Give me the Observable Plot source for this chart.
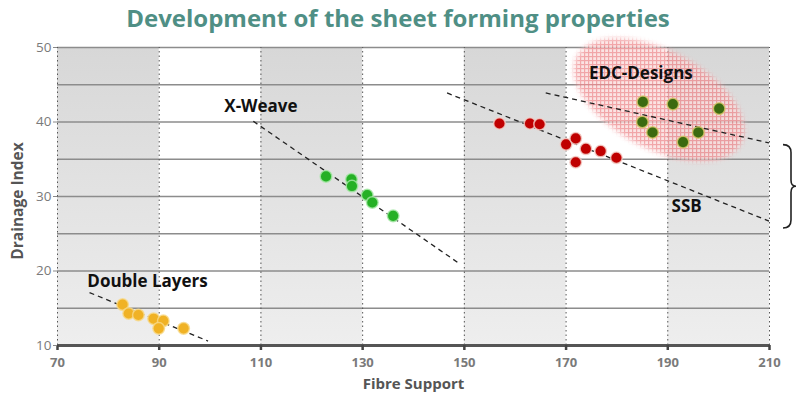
<!DOCTYPE html>
<html><head><meta charset="utf-8">
<script src="https://cdn.jsdelivr.net/npm/d3@7"></script>
<script src="https://cdn.jsdelivr.net/npm/@observablehq/plot@0.6"></script>
<style>
body{margin:0;background:#fff;width:796px;height:398px;overflow:hidden;font-family:"Open Sans",Lato,sans-serif}
#title{height:36px;line-height:36px;text-align:center;color:#4f8f85;font-weight:bold;font-size:24px;white-space:nowrap}
#chart svg{display:block}
</style></head><body>
<div id="title">Development of the sheet forming properties</div>
<div id="chart"></div>
<script>
// ---- data ----
const xTicks = [70, 90, 110, 130, 150, 170, 190, 210];
const yTicks = [10, 20, 30, 40, 50];
const gridY = [15, 20, 25, 30, 35, 40, 45, 50];
const bandStart = [70, 110, 150, 190];
const bandEnd = [90, 130, 170, 210];

const doubleLayersX = [82.8, 84.0, 85.9, 88.9, 90.8, 89.9, 94.8];
const doubleLayersY = [15.5, 14.3, 14.1, 13.6, 13.3, 12.3, 12.3];
const xWeaveX = [122.8, 127.8, 127.9, 130.9, 131.9, 136.0];
const xWeaveY = [32.7, 32.3, 31.4, 30.2, 29.2, 27.4];
const ssbX = [156.9, 162.9, 164.8, 170.0, 171.9, 173.9, 171.9, 176.8, 179.9];
const ssbY = [39.8, 39.8, 39.7, 37.0, 37.8, 36.4, 34.6, 36.1, 35.2];
const edcX = [185.1, 191.0, 200.1, 185.0, 187.0, 196.0, 193.0];
const edcY = [42.7, 42.4, 41.8, 40.0, 38.6, 38.6, 37.3];

const trendX1 = [76.3, 108.5, 146.6, 166.0];
const trendY1 = [17.1, 40.1, 43.9, 43.9];
const trendX2 = [99.6, 148.8, 209.9, 209.9];
const trendY2 = [10.6, 21.1, 26.7, 37.2];

const labelText = ["Double Layers", "X-Weave", "SSB", "EDC-Designs"];
const labelX = [87.7, 110.0, 193.7, 184.7];
const labelY = [18.6, 42.1, 28.6, 46.5];

// EDC region (centre in data units) and bracket span
const edcCenterX = 188.4, edcCenterY = 42.9;
const bracketTop = 36.9, bracketBottom = 25.7;

// ---- tables ----
const pts = (xs, ys) => xs.map((x, i) => ({x, y: ys[i]}));
const bands = bandStart.map((s, i) => ({x1: s, x2: bandEnd[i]}));
const trends = trendX1.map((x, i) => ({x1: x, y1: trendY1[i], x2: trendX2[i], y2: trendY2[i]}));
const labels = labelText.map((t, i) => ({t, x: labelX[i], y: labelY[i]}));

const defsMark = () => {
  const g = d3.create("svg:g");
  const defs = g.append("defs");
  const lg = defs.append("linearGradient").attr("id", "bandGrad").attr("x1", 0).attr("y1", 0).attr("x2", 0).attr("y2", 1);
  lg.append("stop").attr("offset", "0%").attr("stop-color", "#d7d7d7");
  lg.append("stop").attr("offset", "100%").attr("stop-color", "#eeeeee");
  const p = defs.append("pattern").attr("id", "edcPat").attr("width", 4).attr("height", 4).attr("patternUnits", "userSpaceOnUse");
  p.append("rect").attr("width", 4).attr("height", 4).attr("fill", "#fbdcdc");
  p.append("rect").attr("width", 4).attr("height", 1.2).attr("fill", "#ee8c90");
  p.append("rect").attr("width", 1.2).attr("height", 4).attr("fill", "#ee8c90");
  const f = defs.append("filter").attr("id", "soft").attr("x", "-30%").attr("y", "-30%").attr("width", "160%").attr("height", "160%");
  f.append("feGaussianBlur").attr("stdDeviation", 2.5);
  return g.node();
};

const ellipseMark = (index, {x, y}) => {
  const cx = x(edcCenterX), cy = y(edcCenterY);
  const g = d3.create("svg:g");
  const mask = g.append("mask").attr("id", "edcMask").attr("maskUnits", "userSpaceOnUse")
    .attr("x", cx - 130).attr("y", cy - 100).attr("width", 260).attr("height", 200);
  mask.append("ellipse")
    .attr("transform", `translate(${cx},${cy}) rotate(28)`)
    .attr("rx", 93).attr("ry", 49)
    .attr("fill", "#fff")
    .attr("filter", "url(#soft)");
  g.append("rect")
    .attr("x", cx - 130).attr("y", cy - 100).attr("width", 260).attr("height", 200)
    .attr("fill", "url(#edcPat)")
    .attr("opacity", 0.78)
    .attr("mask", "url(#edcMask)");
  return g.node();
};

const bracketMark = (index, {x, y}) => {
  const x0 = x(210) + 14, yt = y(bracketTop), yb = y(bracketBottom), ym = (yt + yb) / 2;
  const g = d3.create("svg:g");
  g.append("path")
    .attr("d", `M${x0},${yt} Q${x0+8},${yt} ${x0+8},${yt+8} L${x0+8},${ym-6} Q${x0+8},${ym} ${x0+13},${ym} Q${x0+8},${ym} ${x0+8},${ym+6} L${x0+8},${yb-8} Q${x0+8},${yb} ${x0},${yb}`)
    .attr("fill", "none").attr("stroke", "#222").attr("stroke-width", 1.6);
  return g.node();
};

const yTitleMark = (index, scales, values, dims) => {
  const cy = (dims.marginTop + dims.height - dims.marginBottom) / 2 + 5;
  const g = d3.create("svg:g");
  g.append("text")
    .attr("transform", `translate(18,${cy}) rotate(-90)`)
    .attr("text-anchor", "middle").attr("dy", "0.35em")
    .attr("font-size", 15.5).attr("font-weight", "bold").attr("fill", "#555")
    .text("Drainage Index");
  return g.node();
};

const dotStyle = (fill, stroke) => ({x: "x", y: "y", r: 5.8, fill, stroke, strokeWidth: 1.5, strokeOpacity: 0.8});

const chart = Plot.plot({
  width: 796,
  height: 362,
  marginLeft: 57,
  marginRight: 27,
  marginTop: 11,
  marginBottom: 53,
  style: {fontFamily: "'Open Sans', Lato, sans-serif", background: "#fff", overflow: "visible"},
  x: {domain: [70, 210], axis: null},
  y: {domain: [10, 50], axis: null},
  marks: [
    defsMark,
    Plot.rect(bands, {x1: "x1", x2: "x2", y1: 10, y2: 50, fill: "url(#bandGrad)"}),
    Plot.ruleY(gridY, {x1: 70, x2: 210, stroke: "#8c8c8c", strokeWidth: 1.5}),
    Plot.ruleX(xTicks, {y1: 10, y2: 50, stroke: "#555", strokeWidth: 1, strokeDasharray: "1.5,3"}),
    ellipseMark,
    Plot.link(trends, {x1: "x1", y1: "y1", x2: "x2", y2: "y2", stroke: "#222", strokeWidth: 1.3, strokeDasharray: "5,4"}),
    Plot.dot(pts(doubleLayersX, doubleLayersY), dotStyle("#f0b225", "#f8d98a")),
    Plot.dot(pts(xWeaveX, xWeaveY), dotStyle("#25b025", "#a8e8a8")),
    Plot.dot(pts(ssbX, ssbY), dotStyle("#c00000", "#f4d0c8")),
    Plot.dot(pts(edcX, edcY), dotStyle("#3b6a10", "#d8c868")),
    Plot.text(labels, {x: "x", y: "y", text: "t", fontSize: 17, fontWeight: "bold", fill: "#111"}),
    Plot.ruleY([10], {x1: 70, x2: 210, stroke: "#555", strokeWidth: 3}),
    Plot.axisX(xTicks, {ticks: xTicks, tickSize: 5, tickPadding: 7, stroke: "#444", strokeWidth: 2.5, fontSize: 13, fontWeight: "bold", fill: "#7a7a7a", label: null}),
    Plot.axisY(yTicks, {ticks: yTicks, tickSize: 4, tickPadding: 2, stroke: "#888", fontSize: 13.5, fill: "#7a7a7a", label: null}),
    Plot.text(["Fibre Support"], {frameAnchor: "bottom", dy: 43, fontSize: 15, fontWeight: "bold", fill: "#555"}),
    yTitleMark,
    bracketMark
  ]
});
document.getElementById("chart").appendChild(chart);
</script>
</body></html>
